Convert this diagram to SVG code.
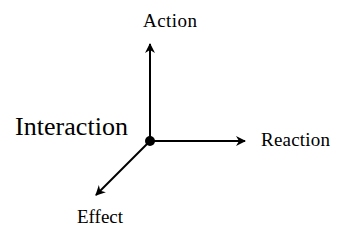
<svg xmlns="http://www.w3.org/2000/svg" width="351" height="240" viewBox="0 0 351 240">
  <style>
    .lbl { font-family: "Liberation Serif", "DejaVu Serif", serif; fill: #000; }
    .axis { stroke: #000; stroke-width: 2; fill: none; }
  </style>
  <defs>
    <marker id="arrow" viewBox="0 0 10 10" refX="9" refY="5" markerWidth="5" markerHeight="5" markerUnits="strokeWidth" orient="auto">
      <path d="M0,0 L10,5 L0,10 L3,5 Z" fill="#000"/>
    </marker>
  </defs>
  <rect width="351" height="240" fill="#fff"/>
  <g id="connectors">
    <line class="axis" x1="150" y1="141" x2="150" y2="44" marker-end="url(#arrow)"/>
    <line class="axis" x1="150" y1="141" x2="245" y2="141" marker-end="url(#arrow)"/>
    <line class="axis" x1="150" y1="141" x2="96" y2="195" marker-end="url(#arrow)"/>
  </g>
  <g id="interaction">
    <circle cx="150" cy="141" r="5" fill="#000"/>
    <text class="lbl" x="15" y="135" font-size="26" textLength="113">Interaction</text>
  </g>
  <g id="action">
    <text class="lbl" x="143" y="27" font-size="19" textLength="54">Action</text>
  </g>
  <g id="reaction">
    <text class="lbl" x="261" y="146" font-size="19" textLength="69">Reaction</text>
  </g>
  <g id="effect">
    <text class="lbl" x="77" y="223" font-size="19" textLength="46">Effect</text>
  </g>
</svg>
